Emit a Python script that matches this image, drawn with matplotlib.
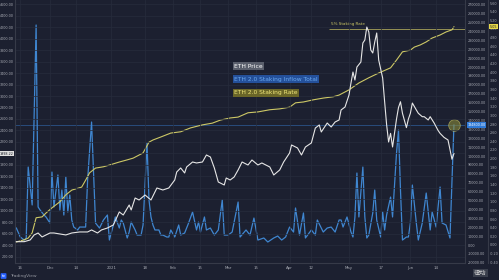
import matplotlib
matplotlib.use("Agg")
import matplotlib.pyplot as plt
import matplotlib.transforms as mtransforms
import numpy as np
import pandas as pd

plt.rcParams['font.family'] = ['DejaVu Sans', 'Noto Sans CJK SC']

BG = "#1c2030"
GRID = "#272c3c"
TXT = "#a6a9b2"
WHITE = "#e6e6e6"
BLUE = "#3f86d0"
YEL = "#cdc866"

# ETH price (left axis)
price_dates = ["2020-11-14", "2020-11-18", "2020-11-21", "2020-11-23", "2020-11-25", "2020-11-27",
               "2020-11-29", "2020-12-01", "2020-12-03", "2020-12-06", "2020-12-09", "2020-12-12",
               "2020-12-16", "2020-12-20", "2020-12-22", "2020-12-25", "2020-12-27", "2020-12-30",
               "2021-01-02", "2021-01-05", "2021-01-07", "2021-01-10", "2021-01-11", "2021-01-13",
               "2021-01-15", "2021-01-18", "2021-01-21", "2021-01-24", "2021-01-27", "2021-01-30",
               "2021-02-02", "2021-02-03", "2021-02-05", "2021-02-07", "2021-02-08", "2021-02-11",
               "2021-02-13", "2021-02-16", "2021-02-18", "2021-02-20", "2021-02-22", "2021-02-24",
               "2021-02-27", "2021-02-28", "2021-03-02", "2021-03-04", "2021-03-06", "2021-03-08",
               "2021-03-11", "2021-03-13", "2021-03-16", "2021-03-18", "2021-03-22", "2021-03-24",
               "2021-03-27", "2021-03-29", "2021-04-01", "2021-04-02", "2021-04-05", "2021-04-07",
               "2021-04-09", "2021-04-12", "2021-04-14", "2021-04-16", "2021-04-17", "2021-04-20",
               "2021-04-22", "2021-04-24", "2021-04-26", "2021-04-27", "2021-04-29", "2021-05-01",
               "2021-05-02", "2021-05-03", "2021-05-04", "2021-05-05", "2021-05-07", "2021-05-08",
               "2021-05-09", "2021-05-10", "2021-05-11", "2021-05-12", "2021-05-13", "2021-05-14",
               "2021-05-15", "2021-05-16", "2021-05-18", "2021-05-19", "2021-05-20", "2021-05-21",
               "2021-05-22", "2021-05-23", "2021-05-25", "2021-05-26", "2021-05-27", "2021-05-28",
               "2021-05-30", "2021-05-31", "2021-06-01", "2021-06-02", "2021-06-04", "2021-06-05",
               "2021-06-07", "2021-06-08", "2021-06-10", "2021-06-11", "2021-06-13", "2021-06-15",
               "2021-06-16", "2021-06-18", "2021-06-20", "2021-06-22", "2021-06-23"]
price_vals = [466, 466, 496, 583, 617, 548,
              583, 617, 617, 600, 583, 617,
              635, 635, 670, 617, 670, 704,
              757, 983, 930, 1104, 1017, 1226,
              1191, 1278, 1191, 1400, 1365, 1400,
              1539, 1678, 1748, 1661, 1765, 1852,
              1835, 1852, 1974, 1939, 1748, 1504,
              1452, 1574, 1539, 1591, 1713, 1852,
              1800, 1887, 1800, 1835, 1765, 1626,
              1713, 1852, 2009, 2148, 2096, 1974,
              2113, 2183, 2443, 2496, 2374, 2530,
              2461, 2548, 2583, 2757, 2809, 3017,
              3226, 3417, 3278, 3504, 3591, 3922,
              3974, 4200, 4113, 3800, 3748, 3939,
              4096, 3626, 3313, 2900, 2500, 2200,
              2350, 2113, 2600, 2800, 2900, 2700,
              2450, 2600, 2700, 2878, 2757, 2700,
              2640, 2640, 2583, 2640, 2530, 2400,
              2350, 2280, 2235, 1900, 1998.22]

# ETH 2.0 staking inflow total (inner right axis)
inflow_dates = ["2020-11-14", "2020-11-16", "2020-11-18", "2020-11-19", "2020-11-20", "2020-11-22",
                "2020-11-24", "2020-11-25", "2020-11-26", "2020-11-28", "2020-11-29", "2020-12-01",
                "2020-12-02", "2020-12-03", "2020-12-05", "2020-12-06", "2020-12-07", "2020-12-08",
                "2020-12-09", "2020-12-10", "2020-12-11", "2020-12-12", "2020-12-13", "2020-12-15",
                "2020-12-16", "2020-12-18", "2020-12-19", "2020-12-20", "2020-12-22", "2020-12-24",
                "2020-12-26", "2020-12-28", "2020-12-30", "2020-12-31", "2021-01-02", "2021-01-03",
                "2021-01-05", "2021-01-06", "2021-01-07", "2021-01-09", "2021-01-10", "2021-01-11",
                "2021-01-13", "2021-01-14", "2021-01-16", "2021-01-17", "2021-01-19", "2021-01-20",
                "2021-01-21", "2021-01-22", "2021-01-23", "2021-01-25", "2021-01-26", "2021-01-27",
                "2021-01-29", "2021-01-30", "2021-01-31", "2021-02-02", "2021-02-04", "2021-02-05",
                "2021-02-07", "2021-02-09", "2021-02-11", "2021-02-13", "2021-02-14", "2021-02-15",
                "2021-02-17", "2021-02-18", "2021-02-20", "2021-02-22", "2021-02-24", "2021-02-26",
                "2021-02-27", "2021-03-01", "2021-03-03", "2021-03-06", "2021-03-07", "2021-03-10",
                "2021-03-12", "2021-03-14", "2021-03-16", "2021-03-19", "2021-03-21", "2021-03-24",
                "2021-03-26", "2021-03-28", "2021-03-30", "2021-04-01", "2021-04-03", "2021-04-04",
                "2021-04-06", "2021-04-08", "2021-04-09", "2021-04-12", "2021-04-14", "2021-04-15",
                "2021-04-18", "2021-04-20", "2021-04-22", "2021-04-24", "2021-04-26", "2021-04-27",
                "2021-04-28", "2021-04-30", "2021-05-02", "2021-05-03", "2021-05-04", "2021-05-05",
                "2021-05-06", "2021-05-08", "2021-05-09", "2021-05-10", "2021-05-11", "2021-05-13",
                "2021-05-14", "2021-05-15", "2021-05-17", "2021-05-18", "2021-05-19", "2021-05-20",
                "2021-05-22", "2021-05-23", "2021-05-25", "2021-05-26", "2021-05-27", "2021-05-28",
                "2021-05-30", "2021-05-31", "2021-06-01", "2021-06-02", "2021-06-04", "2021-06-05",
                "2021-06-07", "2021-06-09", "2021-06-11", "2021-06-12", "2021-06-14", "2021-06-16",
                "2021-06-17", "2021-06-19", "2021-06-21", "2021-06-23"]
inflow_vals = [19100, 9000, 5600, 7900, 87600, 45000,
               247200, 42700, 39300, 33700, 31500, 24700,
               82000, 42700, 78700, 39300, 61800, 33700,
               76400, 37100, 56200, 28100, 20200, 16900,
               20200, 20200, 20200, 73000, 138200, 24700,
               19100, 28100, 33700, 5600, 22500, 31500,
               19100, 28100, 24700, 7900, 14600, 25800,
               16900, 11200, 11200, 22500, 114600, 50600,
               31500, 22500, 16900, 16900, 11200, 11200,
               9000, 9000, 16900, 9000, 22500, 11200,
               13500, 24700, 37100, 16900, 25800, 14600,
               31500, 16900, 19100, 11200, 16900, 50600,
               11200, 11200, 14600, 48300, 9000, 16900,
               11200, 30300, 5600, 7900, 3400, 7900,
               10100, 5600, 9000, 20200, 14600, 41600,
               11200, 36000, 7900, 16900, 11200, 28100,
               14600, 19100, 20200, 14600, 28100, 28100,
               20200, 31500, 14600, 9000, 31500, 80900,
               31500, 87600, 31500, 7900, 11200, 36000,
               61800, 28100, 9000, 37100, 16900, 33700,
               53900, 31500, 103400, 129200, 61800, 5600,
               9000, 9000, 24700, 67400, 24700, 5600,
               24700, 58400, 16900, 37100, 20200, 65200,
               24700, 22500, 7900, 134800]

# ETH 2.0 staking rate, % (outer right axis)
rate_dates = ["2020-11-14", "2020-11-18", "2020-11-20", "2020-11-22", "2020-11-24", "2020-11-27",
              "2020-11-29", "2020-12-02", "2020-12-06", "2020-12-09", "2020-12-12", "2020-12-17",
              "2020-12-19", "2020-12-21", "2020-12-24", "2020-12-28", "2020-12-31", "2021-01-05",
              "2021-01-09", "2021-01-12", "2021-01-17", "2021-01-20", "2021-01-22", "2021-01-26",
              "2021-01-31", "2021-02-05", "2021-02-10", "2021-02-16", "2021-02-21", "2021-02-25",
              "2021-03-02", "2021-03-06", "2021-03-11", "2021-03-16", "2021-03-22", "2021-03-27",
              "2021-04-01", "2021-04-04", "2021-04-08", "2021-04-13", "2021-04-18", "2021-04-23",
              "2021-04-26", "2021-05-01", "2021-05-06", "2021-05-11", "2021-05-16", "2021-05-22",
              "2021-05-25", "2021-05-28", "2021-06-01", "2021-06-03", "2021-06-06", "2021-06-09",
              "2021-06-12", "2021-06-16", "2021-06-19", "2021-06-22", "2021-06-23"]
rate_vals = [0.07, 0.12, 0.16, 0.28, 0.63, 0.65,
             0.74, 0.86, 1.00, 1.16, 1.27, 1.34,
             1.50, 1.67, 1.78, 1.81, 1.85, 1.92,
             1.97, 2.01, 2.13, 2.38, 2.43, 2.50,
             2.59, 2.62, 2.71, 2.78, 2.82, 2.89,
             2.94, 2.96, 3.06, 3.08, 3.13, 3.15,
             3.19, 3.29, 3.31, 3.36, 3.40, 3.43,
             3.47, 3.59, 3.75, 3.87, 3.98, 4.10,
             4.28, 4.47, 4.51, 4.58, 4.63, 4.70,
             4.79, 4.86, 4.93, 4.98, 5.05]

x_ticks = ["2020-11-16", "2020-12-01", "2020-12-14", "2021-01-01", "2021-01-18", "2021-02-01",
           "2021-02-15", "2021-03-01", "2021-03-15", "2021-04-01", "2021-04-12", "2021-05-01",
           "2021-05-17", "2021-06-01", "2021-06-14"]
x_labels = ["16", "Dec", "14", "2021", "18", "Feb", "15", "Mar", "15", "Apr", "12", "May", "17", "Jun", "14"]

fig = plt.figure(figsize=(4.99, 2.80), dpi=100, facecolor=BG)
ax = fig.add_axes([15 / 499, 17 / 280, 450 / 499, 263 / 280])
ax.set_facecolor(BG)
ax2 = ax.twinx()
ax3 = ax.twinx()

pd_price = pd.to_datetime(price_dates)
pd_inflow = pd.to_datetime(inflow_dates)
pd_rate = pd.to_datetime(rate_dates)

ax2.plot(pd_inflow, inflow_vals, color=BLUE, lw=0.9, zorder=2)
ax3.plot(pd_rate, rate_vals, color=YEL, lw=0.8, zorder=3)
ax.plot(pd_price, price_vals, color=WHITE, lw=0.8, zorder=4)
ax.set_zorder(ax3.get_zorder() + 1)
ax.patch.set_visible(False)
ax2.patch.set_visible(False)
ax3.patch.set_visible(False)

# axes ranges
ax.set_xlim(pd.Timestamp("2020-11-13 08:00"), pd.Timestamp("2021-06-28 14:00"))
ax.set_ylim(95, 4670)
ax2.set_ylim(-20200, 275300)
ax3.set_ylim(-0.417, 5.67)

ax.set_yticks(np.arange(200, 4601, 200))
ax.set_yticklabels([f"{v:.2f}" for v in np.arange(200, 4601, 200)])
ax2.set_yticks(np.arange(-20000, 270001, 10000))
ax2.set_yticklabels([f"{v:.2f}" for v in np.arange(-20000, 270001, 10000)])
rt = np.round(np.arange(-0.4, 5.61, 0.2), 2)
ax3.set_yticks(rt)
ax3.set_yticklabels([f"{v:.2f}" for v in rt])

ax.set_xticks(pd.to_datetime(x_ticks))
ax.set_xticklabels(x_labels)

ax.grid(True, color=GRID, lw=0.5)
for a in (ax, ax2, ax3):
    a.tick_params(length=0, labelsize=2.4, colors=TXT, pad=1)
    for s in a.spines.values():
        s.set_visible(False)
ax.tick_params(axis="x", labelsize=2.8, pad=2.5)
ax.spines["left"].set_visible(True)
ax.spines["left"].set_color("#363a48")
ax.spines["bottom"].set_visible(True)
ax.spines["bottom"].set_color("#363a48")
ax2.spines["right"].set_visible(True)
ax2.spines["right"].set_color("#363a48")
ax3.spines["right"].set_position(("axes", 1 + 23 / 450))
ax3.spines["right"].set_visible(True)
ax3.spines["right"].set_color("#363a48")
ax2.tick_params(pad=2)
ax3.tick_params(pad=1.2)

# 5% reference line
ax3.hlines(5.0, pd.Timestamp("2021-04-21"), pd.Timestamp("2021-06-28 14:00"), color="#a8a45a", lw=0.6)
ax3.text(pd.Timestamp("2021-04-22"), 5.06, "5% Staking Rate", color=YEL, fontsize=3, va="bottom")

# last-value price line of the inflow series
ax2.axhline(inflow_vals[-1], color="#2e5f9e", lw=0.6, alpha=0.8, zorder=1)

# highlight circle on the last inflow value
ax2.scatter([pd_inflow[-1]], [inflow_vals[-1]], s=70, facecolor="#8a8a3a", edgecolor=YEL,
            alpha=0.6, lw=0.6, zorder=5)

# last-value labels on the axes
t1 = mtransforms.blended_transform_factory(ax.transAxes, ax.transData)
ax.text(-0.003, price_vals[-1], f"{price_vals[-1]:.2f}", transform=t1, ha="right", va="center",
        fontsize=2.4, color="#131722", bbox=dict(boxstyle="square,pad=0.2", fc="#e0e0e0", ec="none"))
t2 = mtransforms.blended_transform_factory(ax2.transAxes, ax2.transData)
ax2.text(1.005, inflow_vals[-1], f"{inflow_vals[-1]:.2f}", transform=t2, ha="left", va="center",
         fontsize=2.4, color="white", bbox=dict(boxstyle="square,pad=0.2", fc="#2f7ad8", ec="none"))
t3 = mtransforms.blended_transform_factory(ax3.transAxes, ax3.transData)
ax3.text(1 + 24.5 / 450, rate_vals[-1], f"{rate_vals[-1]:.2f}", transform=t3, ha="left", va="center",
         fontsize=2.4, color="#131722", bbox=dict(boxstyle="square,pad=0.2", fc="#e6d84a", ec="none"))

# legend labels
fig.text(234 / 499, 1 - 66 / 280, "ETH Price", fontsize=4.3, color="white", va="center",
         bbox=dict(boxstyle="square,pad=0.2", fc="#5a5f6c", ec="none"))
fig.text(234 / 499, 1 - 79 / 280, "ETH 2.0 Staking Inflow Total", fontsize=4.3, color="#6aa8ee",
         va="center", bbox=dict(boxstyle="square,pad=0.2", fc="#24509a", ec="none"))
fig.text(234 / 499, 1 - 93 / 280, "ETH 2.0 Staking Rate", fontsize=4.3, color="#f0e67a",
         va="center", bbox=dict(boxstyle="square,pad=0.2", fc="#6a6628", ec="none"))

# watermarks
fig.text(1.5 / 499, 4 / 280, "tv", fontsize=3, color="white", va="center",
         bbox=dict(boxstyle="round,pad=0.2", fc="#2962ff", ec="none"))
fig.text(10 / 499, 4 / 280, "TradingView", fontsize=3.2, color="#9598a1", va="center")
fig.text(474 / 499, 7 / 280, "律动", fontsize=4.5, color="#d8d8d8", va="center",
         bbox=dict(boxstyle="square,pad=0.2", fc="#3a3f4c", ec="none"))

fig.savefig("out.png", dpi=100, facecolor=BG)
